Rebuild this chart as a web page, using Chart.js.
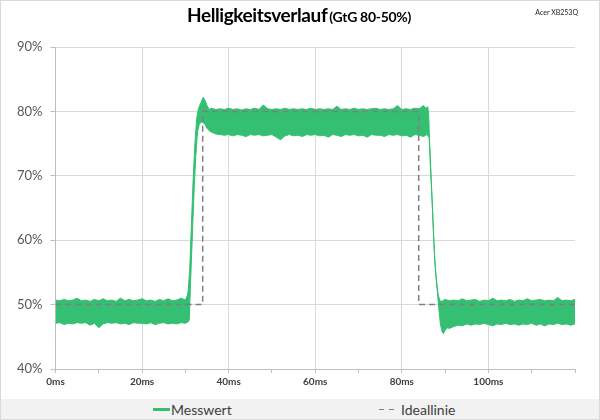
<!DOCTYPE html>
<html>
<head>
<meta charset="utf-8">
<script src="https://cdn.jsdelivr.net/npm/chart.js@4.4.1/dist/chart.umd.min.js"></script>
<style>
  body { margin: 0; background: #fff; }
  #wrap { position: relative; width: 600px; height: 420px; font-family: Lato, "Open Sans", sans-serif; }
  #frame { position: absolute; left: 0; top: 0; width: 598px; height: 418px; border: 1px solid #d9d9d9; pointer-events: none; }
  #title { position: absolute; top: 3px; left: 0; width: 598px; text-align: center; color: #000; font-weight: bold; white-space: nowrap; }
  #title .main { font-size: 19px; letter-spacing: -0.4px; }
  #title .sub { font-size: 14px; letter-spacing: -0.3px; margin-left: 2px; }
  #device { position: absolute; top: 8px; right: 22px; font-size: 7px; color: #222; }
  #legend { position: absolute; left: 1px; top: 399px; width: 598px; height: 20px; background: #f2f2f2; color: #404040; font-size: 14px; }
  .item { position: absolute; top: 1px; display: flex; align-items: center; height: 19px; }
  .swatch { width: 17px; height: 3px; margin-right: 1px; }
  canvas { position: absolute; left: 0; top: 0; }
</style>
</head>
<body>
<div id="wrap">
  <canvas id="chart" width="600" height="420"></canvas>
  <div id="title"><span class="main">Helligkeitsverlauf</span><span class="sub">(GtG 80-50%)</span></div>
  <div id="device">Acer XB253Q</div>
  <div id="legend"></div>
  <div id="frame"></div>
</div>
<script>
// Messwert: upper and lower edge of the noisy band (ms, %)
const upperTimes = [
  0, 1, 2, 3, 4, 5, 6, 7, 8, 9, 10, 11, 12, 13, 14, 15, 16, 17, 18, 19, 20,
  21, 22, 23, 24, 25, 26, 27, 28, 29, 30, 30.5,
  30.7, 31.0, 31.4, 31.8, 32.2, 32.6, 33.0, 33.5, 34.1, 34.6, 35.0, 35.5, 36,
  37, 38, 39, 40, 41, 42, 43, 44, 45, 46, 47, 48, 49, 50, 51, 52, 53, 54, 55,
  56, 57, 58, 59, 60, 61, 62, 63, 64, 65, 66, 67, 68, 69, 70, 71, 72, 73, 74,
  75, 76, 77, 78, 79, 80, 81, 82, 83, 84, 85, 85.5, 86.0,
  86.2, 86.4, 86.8, 87.2, 87.6, 88.0, 88.4, 88.8, 89.2,
  90, 91, 92, 93, 94, 95, 96, 97, 98, 99, 100, 101, 102, 103, 104, 105, 106,
  107, 108, 109, 110, 111, 112, 113, 114, 115, 116, 117, 118, 119, 120
];
const upperValues = [
  50.7, 50.6, 50.8, 50.6, 50.7, 51.0, 50.6, 50.7, 50.5, 50.8, 50.6, 50.9, 50.6, 50.7, 50.5, 51.0, 50.6, 50.8, 50.6, 50.7, 50.9,
  50.6, 50.7, 50.5, 50.8, 50.6, 50.9, 50.6, 50.7, 51.0, 50.7, 51.5,
  52.5, 55.5, 62.5, 69.5, 75.0, 78.8, 80.4, 81.2, 82.2, 81.6, 80.9, 80.3, 80.5,
  80.3, 80.4, 80.3, 80.5, 80.3, 80.4, 80.2, 80.4, 80.3, 80.5, 80.3, 81.0, 80.4, 80.3, 80.4, 80.3, 80.5, 80.3, 80.4,
  80.3, 80.4, 80.3, 80.5, 80.3, 80.4, 80.3, 80.4, 80.3, 80.8, 80.3, 80.4, 80.3, 80.5, 80.3, 80.4, 80.3, 80.4, 80.5,
  80.3, 80.4, 80.3, 80.4, 80.9, 80.3, 80.4, 80.3, 80.5, 80.4, 80.9, 80.5, 80.7,
  79.5, 75.5, 69.3, 63.1, 56.9, 53.8, 51.5, 50.6, 50.5,
  50.8, 50.6, 50.7, 50.6, 50.9, 50.6, 50.7, 50.8, 50.5, 50.7, 50.6, 51.0, 50.6, 50.7, 50.6, 50.8, 50.5,
  50.7, 50.6, 50.9, 50.6, 50.7, 50.8, 50.6, 50.7, 50.6, 51.1, 50.6, 50.7, 50.6, 50.8
];
const lowerTimes = [
  0, 1, 2, 3, 4, 5, 6, 7, 8, 9, 10, 11, 12, 13, 14, 15, 16, 17, 18, 19, 20,
  21, 22, 23, 24, 25, 26, 27, 28, 29, 30, 30.6,
  30.9, 31.2, 31.6, 32.0, 32.4, 32.8, 33.2, 33.8, 34.5, 35.0, 35.5, 36, 37,
  38, 39, 40, 41, 42, 43, 44, 45, 46, 47, 48, 49, 50, 51, 52, 53, 54, 55,
  56, 57, 58, 59, 60, 61, 62, 63, 64, 65, 66, 67, 68, 69, 70, 71, 72, 73, 74,
  75, 76, 77, 78, 79, 80, 81, 82, 83, 84, 85, 85.8,
  86.3, 86.6, 87.0, 87.4, 87.8, 88.2, 88.6, 88.9, 89.3, 89.6, 90.0, 90.5,
  91, 92, 93, 94, 95, 96, 97, 98, 99, 100, 101, 102, 103, 104, 105, 106,
  107, 108, 109, 110, 111, 112, 113, 114, 115, 116, 117, 118, 119, 120
];
const lowerValues = [
  47.1, 47.2, 46.9, 47.1, 47.0, 47.2, 47.1, 47.2, 46.8, 47.1, 46.4, 47.0, 47.2, 47.1, 47.2, 47.0, 47.1, 46.9, 47.2, 47.1, 47.1,
  47.0, 47.2, 46.9, 47.1, 47.2, 47.0, 47.1, 47.0, 47.2, 47.1, 47.3,
  47.6, 53.5, 60.5, 67.5, 73.0, 76.8, 78.0, 78.4, 78.0, 77.4, 77.0, 76.8, 76.5,
  76.4, 76.3, 76.4, 76.2, 76.4, 76.3, 76.1, 76.4, 76.3, 76.4, 76.2, 76.3, 76.4, 76.0, 75.6, 76.2, 76.4, 76.2,
  76.3, 76.1, 76.4, 76.3, 76.4, 76.2, 76.3, 76.0, 76.4, 76.3, 76.1, 76.4, 76.3, 76.4, 76.2, 76.3, 76.0, 76.4, 76.3,
  76.3, 76.1, 76.4, 76.3, 76.4, 76.2, 76.3, 76.0, 76.4, 76.3, 76.1, 76.4,
  76.0, 71.5, 66.0, 59.5, 55.0, 52.0, 49.0, 47.0, 45.8, 45.5, 46.0, 46.4,
  46.3, 46.6, 46.8, 46.7, 47.0, 46.8, 47.0, 46.9, 47.1, 46.9, 46.7, 47.0, 46.9, 47.1, 46.9, 47.0,
  46.8, 47.0, 46.9, 47.1, 46.8, 47.0, 46.7, 47.0, 46.9, 47.1, 46.9, 47.0, 46.8, 47.0
];
// Ideallinie
const idealTimes = [0, 34.0, 34.0, 83.9, 83.9, 120];
const idealValues = [50, 50, 80, 80, 50, 50];

const xTicks = [0, 20, 40, 60, 80, 100];
const yTicks = [40, 50, 60, 70, 80, 90];

const green = '#34bf72';
const grey = '#7f7f7f';

function points(ts, vs) {
  return ts.map((t, i) => ({ x: t, y: vs[i] }));
}

var ctx = document.getElementById('chart');

var chart = new Chart(ctx, {
  type: 'line',
  data: {
    datasets: [{
      label: 'Ideallinie',
      data: points(idealTimes, idealValues),
      borderColor: grey,
      borderWidth: 1.5,
      borderDash: [6, 4],
      fill: false,
      pointRadius: 0
    }, {
      label: 'Messwert',
      data: points(upperTimes, upperValues),
      borderColor: green,
      backgroundColor: green,
      borderWidth: 1,
      fill: '+1',
      pointRadius: 0
    }, {
      label: 'Messwert unten',
      data: points(lowerTimes, lowerValues),
      borderColor: green,
      borderWidth: 1,
      fill: false,
      pointRadius: 0
    }]
  },
  options: {
    responsive: false,
    animation: false,
    layout: { padding: { top: 47, left: 0, right: 25, bottom: 31 } },
    plugins: {
      legend: { display: false },
      tooltip: { enabled: false }
    },
    scales: {
      x: {
        type: 'linear',
        min: 0,
        max: 120,
        afterFit: function (s) { s.height = 20; },
        ticks: {
          stepSize: 10,
          autoSkip: false,
          maxRotation: 0,
          padding: 3,
          color: '#404040',
          font: { family: 'Lato', size: 10, weight: 'bold' },
          callback: v => xTicks.includes(v) ? v + 'ms' : ''
        },
        grid: {
          color: c => xTicks.includes(c.tick.value) ? '#d9d9d9' : 'rgba(0,0,0,0)',
          tickColor: '#bfbfbf',
          tickLength: 4
        },
        border: { color: '#bfbfbf' }
      },
      y: {
        min: 40,
        max: 90,
        afterFit: function (s) { s.width = 55.5; },
        afterBuildTicks: function (s) { s.ticks = yTicks.map(v => ({ value: v })); },
        ticks: {
          padding: 8,
          color: '#595959',
          font: { family: 'Lato', size: 13 },
          callback: v => v + '%'
        },
        grid: { color: '#d9d9d9', tickColor: '#bfbfbf', tickLength: 5 },
        border: { color: '#bfbfbf' }
      }
    }
  }
});

// legend built from the datasets
var legend = document.getElementById('legend');
var legendLeft = { 'Messwert': 152, 'Ideallinie': 378 };
chart.data.datasets.forEach(function (ds) {
  if (!(ds.label in legendLeft)) return;
  var item = document.createElement('div');
  item.className = 'item';
  item.style.left = legendLeft[ds.label] + 'px';
  var sw = document.createElement('span');
  sw.className = 'swatch';
  if (ds.borderDash) {
    sw.style.height = '1.5px';
    sw.style.width = '16px';
    sw.style.marginRight = '6px';
    sw.style.background = 'repeating-linear-gradient(to right, ' + ds.borderColor +
      ' 0 5px, transparent 5px 10px)';
  } else {
    sw.style.background = ds.borderColor;
  }
  var txt = document.createElement('span');
  txt.textContent = ds.label;
  item.appendChild(sw);
  item.appendChild(txt);
  legend.appendChild(item);
});
</script>
</body>
</html>
